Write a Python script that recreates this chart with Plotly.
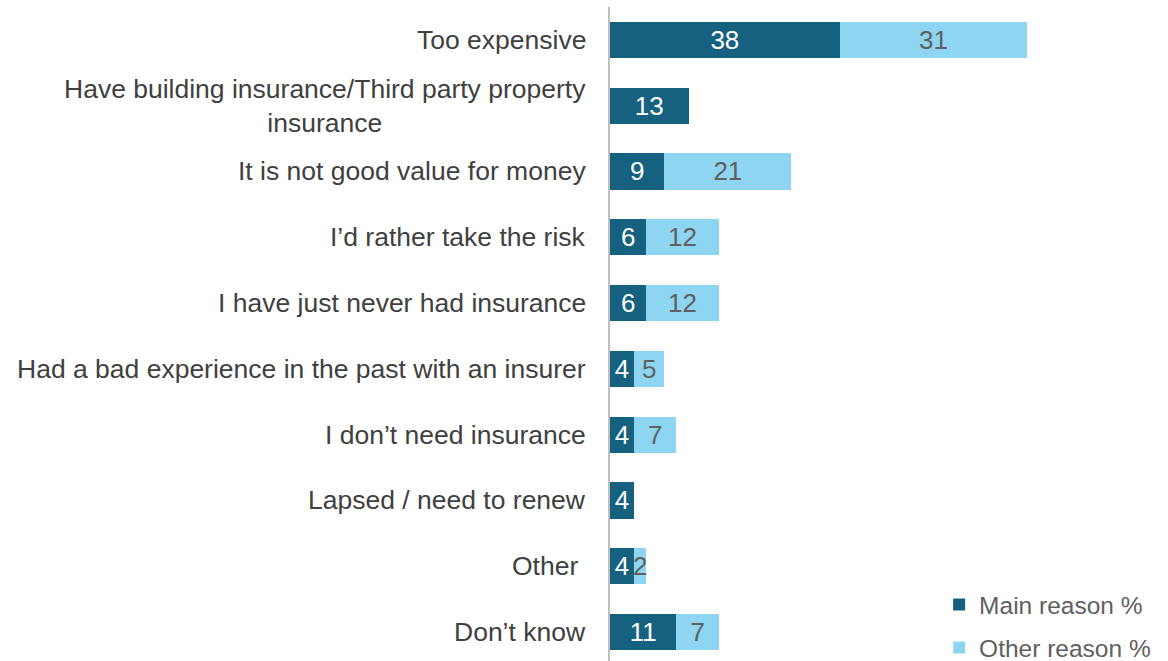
import plotly.graph_objects as go

# Reasons for not having insurance, top to bottom
reasons = [
    "Too expensive",
    "Have building insurance/Third party property<br>insurance",
    "It is not good value for money",
    "I\u2019d rather take the risk",
    "I have just never had insurance",
    "Had a bad experience in the past with an insurer",
    "I don\u2019t need insurance",
    "Lapsed / need to renew",
    "Other ",
    "Don\u2019t know",
]
main_reason = [38, 13, 9, 6, 6, 4, 4, 4, 4, 11]
other_reason = [31, None, 21, 12, 12, 5, 7, None, 2, 7]

DARK = "#15617F"
LIGHT = "#8DD5F0"
LABEL_GREY = "#404040"
VALUE_GREY = "#606060"
FONT = "Liberation Sans, Arial, sans-serif"
FS = 26

pos = list(range(len(reasons)))

fig = go.Figure()
fig.add_trace(go.Bar(
    y=pos, x=main_reason, orientation="h", name="Main reason %",
    marker=dict(color=DARK, line=dict(width=0)),
    text=[str(v) for v in main_reason], textposition="inside",
    insidetextanchor="middle", textangle=0,
    textfont=dict(color="white", size=FS, family=FONT),
    legendgroup="main", width=0.55,
))
fig.add_trace(go.Bar(
    y=pos, x=other_reason, orientation="h", name="Other reason %",
    marker=dict(color=LIGHT, line=dict(width=0)),
    text=["" if v is None else str(v) for v in other_reason],
    textposition="inside", insidetextanchor="middle", textangle=0,
    textfont=dict(color=VALUE_GREY, size=FS, family=FONT),
    legendgroup="other", width=0.55,
))

# Category labels, right aligned to the axis with multi-line text centred
for p, label in zip(pos, reasons):
    fig.add_annotation(
        x=0, xref="paper", y=p, yref="y", text=label, showarrow=False,
        xanchor="right", yanchor="middle", align="center", xshift=-22,
        font=dict(size=26.5, color=LABEL_GREY, family=FONT),
    )

fig.update_layout(
    width=1168, height=661,
    margin=dict(l=610, r=14, t=7, b=0, autoexpand=False),
    barmode="stack",
    plot_bgcolor="white", paper_bgcolor="white",
    font=dict(family=FONT, size=FS, color=VALUE_GREY),
    uniformtext=dict(minsize=FS, mode="show"),
    showlegend=True,
    legend=dict(
        x=0.605, y=-0.014, xanchor="left", yanchor="bottom",
        font=dict(size=24.5, color=VALUE_GREY, family=FONT),
        traceorder="grouped", tracegroupgap=8, itemwidth=30,
        bgcolor="rgba(0,0,0,0)",
    ),
    xaxis=dict(range=[0, 90], showgrid=False, zeroline=False,
               showticklabels=False, showline=False),
    yaxis=dict(range=[9.44, -0.5], showgrid=False, zeroline=False,
               showticklabels=False, showline=True, linecolor="#BFBFBF",
               linewidth=1.5),
)

fig.write_html("out.html")
